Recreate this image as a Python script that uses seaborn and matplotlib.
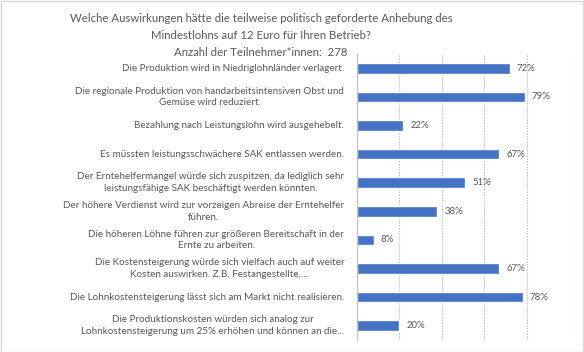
import matplotlib
matplotlib.use("Agg")
import matplotlib.pyplot as plt
import seaborn as sns
import pandas as pd
from matplotlib.patches import Rectangle

categories = [
    "Die Produktion wird in Niedriglohnländer verlagert.",
    "Die regionale Produktion von handarbeitsintensiven Obst und\nGemüse wird reduziert.",
    "Bezahlung nach Leistungslohn wird ausgehebelt.",
    "Es müssten leistungsschwächere SAK entlassen werden.",
    "Der Erntehelfermangel würde sich zuspitzen, da lediglich sehr\nleistungsfähige SAK beschäftigt werden könnten.",
    "Der höhere Verdienst wird zur vorzeigen Abreise der Erntehelfer\nführen.",
    "Die höheren Löhne führen zur größeren Bereitschaft in der\nErnte zu arbeiten.",
    "Die Kostensteigerung würde sich vielfach auch auf weiter\nKosten auswirken. Z.B. Festangestellte,...",
    "Die Lohnkostensteigerung lässt sich am Markt nicht realisieren.",
    "Die Produktionskosten würden sich analog zur\nLohnkostensteigerung um 25% erhöhen und können an die...",
]
values = [0.72, 0.79, 0.22, 0.67, 0.51, 0.38, 0.08, 0.67, 0.78, 0.20]
value_labels = ["72%", "79%", "22%", "67%", "51%", "38%", "8%", "67%", "78%", "20%"]
title = ("Welche Auswirkungen hätte die teilweise politisch geforderte Anhebung des\n"
         "Mindestlohns auf 12 Euro für Ihren Betrieb?\n"
         "Anzahl der Teilnehmer*innen:  278")

sns.set_style("white")
plt.rcParams["font.family"] = ["Lato", "DejaVu Sans"]

df = pd.DataFrame({"cat": categories, "val": values})

W, H = 584, 352
fig = plt.figure(figsize=(W / 100, H / 100), dpi=100)
ax = fig.add_axes([356.5 / W, 1 - 340 / H, (569.5 - 356.5) / W, (340 - 54) / H])

sns.barplot(data=df, x="val", y="cat", orient="h", color="#4472C4",
            width=0.37, saturation=1, ax=ax)

ax.set_xlim(0, 1)
ax.set_ylim(len(categories) - 0.5, -0.5)
ax.set_xticks([0, 0.2, 0.4, 0.6, 0.8, 1.0])
ax.set_xticklabels([])
ax.tick_params(axis="x", length=0)
ax.grid(axis="x", color="#C8C8C8", linestyle=(0, (1.5, 1)), linewidth=0.8)
ax.set_axisbelow(True)
for s in ["top", "right", "bottom"]:
    ax.spines[s].set_visible(False)
ax.spines["left"].set_color("#BFBFBF")
ax.spines["left"].set_linewidth(0.8)
ax.set_xlabel("")
ax.set_ylabel("")

# category labels and boundary ticks
ax.set_yticks([i + 0.5 for i in range(-1, len(categories))], minor=False)
ax.set_yticklabels([])
ax.tick_params(axis="y", length=4, color="#BFBFBF", width=0.8, direction="out")
for i, c in enumerate(categories):
    ax.text(-0.058, i, c, ha="right", va="center", multialignment="center",
            fontsize=7.1, color="#595959", linespacing=1.35)

for i, (v, lab) in enumerate(zip(values, value_labels)):
    ax.text(v + 0.033, i, lab, ha="left", va="center", fontsize=6.9, color="#595959")

fig.text(0.447, 1 - 35.5 / H, title, ha="center", va="center", fontsize=8.2,
         color="#595959", linespacing=1.65)

fig.patches.append(Rectangle((0.5 / W, 0.5 / H), 1 - 1.5 / W, 1 - 1.5 / H,
                             transform=fig.transFigure, fill=False,
                             edgecolor="#D9D9D9", linewidth=1))

fig.savefig("out.png", dpi=100)
